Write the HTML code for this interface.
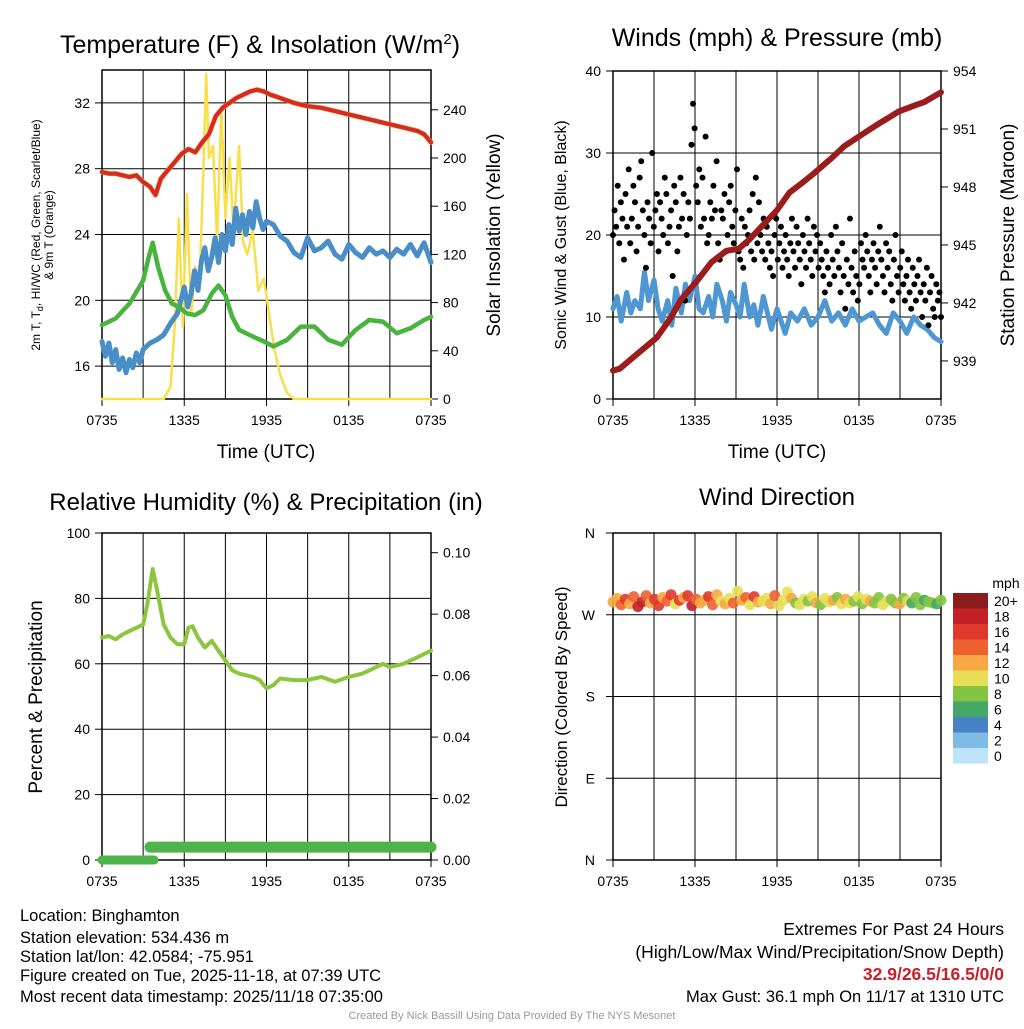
<!DOCTYPE html>
<html><head><meta charset="utf-8"><style>
body{margin:0;background:#fff;font-family:"Liberation Sans",sans-serif}
svg text{font-family:"Liberation Sans",sans-serif;fill:#000}
</style></head><body>
<svg id="c" width="1024" height="1024" xmlns="http://www.w3.org/2000/svg"></svg>
<script>
const xLabels=["0735","1335","1935","0135","0735"];
const tHours=[0,0.5,1,1.5,2,2.5,3,3.5,3.9,4.3,4.8,5.3,5.8,6.3,6.8,7.3,7.8,8.3,8.8,9.3,9.8,10.3,10.8,11.3,11.8,12.3,13,14,15,16,17,18,19,20,21,22,23,23.5,24];
const tempRed=[27.8,27.7,27.7,27.6,27.5,27.6,27.2,26.9,26.4,27.4,27.9,28.4,28.9,29.2,29.0,29.6,30.1,31.2,31.7,32.0,32.3,32.5,32.7,32.8,32.7,32.5,32.3,32.0,31.8,31.7,31.5,31.3,31.1,30.9,30.7,30.5,30.3,30.1,29.6];
const dewHours=[0,1,2,3,3.4,3.7,4.1,4.6,5.1,5.6,6.2,6.8,7.4,8,8.5,9,9.5,10,11,11.8,12.5,13.5,14.5,15.5,16.5,17.5,18.5,19.5,20.5,21.5,22.5,23.5,24];
const dewGreen=[18.5,18.9,19.8,21.2,22.6,23.5,22.0,20.6,19.8,19.6,19.2,19.1,19.4,20.4,20.9,20.3,19.0,18.2,17.8,17.5,17.2,17.6,18.4,18.4,17.6,17.3,18.2,18.8,18.7,18.0,18.3,18.8,19.0];
const chillHours=[0,0.25,0.5,0.75,1,1.25,1.5,1.75,2,2.25,2.5,2.75,3,3.5,4,4.5,5,5.5,6,6.25,6.5,6.75,7,7.25,7.5,7.75,8,8.25,8.5,8.75,9,9.25,9.5,9.75,10,10.25,10.5,10.75,11,11.25,11.5,11.75,12,12.5,13,13.5,14,14.5,15,15.5,16,16.5,17,17.5,18,18.5,19,19.5,20,20.5,21,21.5,22,22.5,23,23.5,24];
const chillBlue=[17.5,16.6,17.4,16.2,17.0,15.8,16.5,15.6,16.4,15.9,16.8,16.2,17.0,17.4,17.6,17.9,18.6,19.2,20.8,19.6,20.4,21.8,20.6,22.4,23.2,21.8,22.6,23.8,22.3,24.0,23.0,24.6,23.4,25.6,24.2,25.2,24.0,25.4,24.4,26.0,25.0,24.3,24.8,24.6,23.9,23.6,22.9,22.6,23.8,23.0,23.2,23.6,22.8,22.5,23.4,22.9,22.6,23.2,22.8,23.0,22.6,23.1,22.8,23.4,22.7,23.5,22.3];
const solHours=[0,4.5,5,5.3,5.6,5.9,6.2,6.5,6.8,7.1,7.4,7.6,7.8,8.1,8.4,8.7,9,9.3,9.6,10,10.3,10.6,11,11.4,11.8,12.2,12.6,13,13.5,14,24];
const solar=[0,0,10,60,150,60,170,70,110,90,190,270,200,210,130,240,150,200,140,210,130,120,140,90,100,70,40,20,5,0,0];
const tempTicks=[16,20,24,28,32];
const solTicks=[0,40,80,120,160,200,240];
const windHours=[0,0.3,0.6,1,1.3,1.6,2,2.3,2.6,3,3.3,3.6,4,4.3,4.6,5,5.3,5.6,6,6.3,6.6,7,7.3,7.6,8,8.3,8.6,9,9.3,9.6,10,10.3,10.6,11,11.3,11.6,12,12.3,12.6,13,13.5,14,14.5,15,15.5,16,16.5,17,17.5,18,18.5,19,19.5,20,20.5,21,21.5,22,22.5,23,23.5,24];
const windBlue=[11,12.5,9.5,13,10.5,12,11,15.5,12,14.5,11,9.5,12,9,13.5,10.5,14,12,15,11,10.5,12.5,10,14,12,9.5,13,11.5,10,14,10,11.5,9,12.5,10.5,8.5,11,9.5,8,10.5,9.5,11,9,10,12,9.5,10.5,9,11,9.5,10,10.5,9,8,10.5,9.5,8,10,9,8.5,7.5,7];
const presHours=[0,0.5,1.5,3.2,4.2,5,6.1,7.2,8.3,9.2,10,10.8,12,12.9,14,14.7,16,16.9,18.4,19.5,20.9,22,22.8,24];
const pressure=[938.5,938.6,939.2,940.2,941.2,942.2,943.1,944.1,944.7,944.8,945.3,945.9,946.8,947.7,948.3,948.7,949.5,950.1,950.8,951.3,951.9,952.2,952.4,952.9];
const gust=[20,23,21,26,19,24,22,17,25,21,28,19,22,26,24,18,21,27,29,23,20,16,24,22,19,30,21,23,25,18,24,22,20,27,25,19,21,23,15,26,24,18,21,27,22,25,12,20,24,22,
31,36,33,26,24,28,21,27,22,32,19,20,24,22,26,23,29,19,17,23,
22,25,18,20,24,26,21,19,23,28,18,17,22,16,21,19,20,23,18,25,17,27,19,24,20,18,22,17,21,19,16,18,15,20,22,17,19,21,16,18,20,17,15,19,22,18,16,21,19,17,14,20,18,16,22,19,17,15,21,18,
20,16,19,17,15,13,18,16,14,20,17,15,21,18,16,13,19,15,11,17,14,22,16,13,18,15,12,14,19,17,16,20,18,15,13,17,19,16,14,18,21,17,15,13,19,16,18,14,12,17,20,15,13,16,18,14,12,15,17,13,11,16,14,12,15,17,13,10,14,12,16,9,13,15,11,10,14,12,13,10];
const windTicks=[0,10,20,30,40];
const presTicks=[939,942,945,948,951,954];
const rhHours=[0,0.5,1,1.5,2,2.5,3,3.3,3.7,4,4.5,5,5.5,6,6.3,6.6,7,7.5,8,8.5,9,9.5,10,11,11.5,12,12.5,13,14,15,16,17,18,19,20,20.5,21,22,23,24];
const rh=[68,68.5,67.5,69,70,71,72,78,89,83,72,68,66,66,71,71.5,68,65,67,64,61,58,57,56,55,52.5,53.5,55.5,55,55,56,54.5,56,57,59,60,59,60,62,64];
const rhTicks=[0,20,40,60,80,100];
const pcpTicks=["0.00","0.02","0.04","0.06","0.08","0.10"];
const pcpHoursA=[0,3.8], pcpA=[0,0];
const pcpHoursB=[3.5,24], pcpB=[0.0042,0.0042];
const dirDeg=[284,288,281,287,282,290,279,284,291,283,287,280,289,285,292,282,286,289,291,280,287,283,286,290,281,292,285,282,288,283,296,286,289,281,290,284,285,288,282,291,280,286,295,288,283,281,287,285,290,283,281,288,284,286,289,282,287,283,285,290,282,287,285,283,289,281,285,287,283,282,288,285,283,289,281,286,284,283,282,286];
const dirSpd=[12,13,14,17,13,15,18,19,14,12,16,17,13,15,16,11,17,13,16,18,15,13,12,17,14,12,10,13,11,15,10,12,14,11,16,12,11,10,13,14,11,10,10,12,9,10,11,8,10,12,9,11,10,12,9,10,13,11,9,10,8,10,12,9,8,10,11,8,9,12,8,10,7,9,8,7,8,9,7,8];
const spdLabels=["20+","18","16","14","12","10","8","6","4","2","0"];
const spdColors=["#8e1b1b","#c21f26","#e0392b","#ef6230","#f7a743","#e6df56","#85c343","#43a865","#4683c4","#80bbe4","#bde3f8"];

const svg=document.getElementById('c');const NS="http://www.w3.org/2000/svg";
function el(tag,attrs,parent){const e=document.createElementNS(NS,tag);for(const k in attrs)e.setAttribute(k,attrs[k]);(parent||svg).appendChild(e);return e;}
function txt(s,x,y,size,anchor,name,extra){const t=el('text',Object.assign({x:x,y:y,'font-size':size,'text-anchor':anchor||'middle'},extra||{}));t.textContent=s;return t;}
function lin(d0,d1,r0,r1){return v=>r0+(v-d0)*(r1-r0)/(d1-d0);}
function border(L,T,R,B){const r=el('rect',{x:L,y:T,width:R-L,height:B-T,fill:'none',stroke:'#000','stroke-width':1.5});}
function frame(L,T,R,B,name){
  const g=el('g',{});
  const xs=lin(0,24,L,R);
  for(let h=3;h<24;h+=3){el('line',{x1:xs(h),x2:xs(h),y1:T,y2:B,stroke:'#000','stroke-width':1},g);}
  for(let i=0;i<5;i++){const x=xs(i*6);txt(xLabels[i],x,B+26,14,'middle','x-tick-label');el('line',{x1:x,x2:x,y1:B,y2:B+7,stroke:'#000'},g);}
  border(L,T,R,B);
  return {g,xs};
}
function path(xsArr,ysArr,xs,ys,color,w,name){let d='';for(let i=0;i<xsArr.length;i++)d+=(i?'L':'M')+xs(xsArr[i]).toFixed(1)+','+ys(ysArr[i]).toFixed(1);const p=el('path',{d:d,fill:'none',stroke:color,'stroke-width':w,'stroke-linejoin':'round','stroke-linecap':'round'});return p;}

(function(){const L=102,T=70,R=431,B=399;const {xs}=frame(L,T,R,B,'temp-panel');
  const ys=lin(14,34,B,T), ss=lin(0,273,B,T);
  tempTicks.forEach(v=>{el('line',{x1:L,x2:R,y1:ys(v),y2:ys(v),stroke:'#000'});el('line',{x1:L-7,x2:L,y1:ys(v),y2:ys(v),stroke:'#000'});txt(String(v),L-12,ys(v)+5,14,'end','y-tick-label');});
  solTicks.forEach(v=>{el('line',{x1:R,x2:R+7,y1:ss(v),y2:ss(v),stroke:'#000'});txt(String(v),R+12,ss(v)+5,14,'start','y2-tick-label');});
  path(solHours,solar,xs,ss,'#f8e04a',2.5,'solar-line');
  path(chillHours,chillBlue,xs,ys,'#4a8ec9',5,'windchill-line');
  path(dewHours,dewGreen,xs,ys,'#49b43d',4.5,'dewpoint-line');
  path(tHours,tempRed,xs,ys,'#f29a3a',5,'temp-9m-line');
  path(tHours,tempRed,xs,ys,'#d62a25',4,'temp-2m-line');
  const t=txt('Temperature (F) & Insolation (W/m',260,53,25,'middle','chart-title');const s=el('tspan',{dy:-9,'font-size':15},t);s.textContent='2';const s2=el('tspan',{dy:9},t);s2.textContent=')';
  txt('Time (UTC)',266,458,19,'middle','x-axis-title');
  txt('Solar Insolation (Yellow)',0,0,19,'middle','y2-axis-title',{transform:'translate(500 235) rotate(-90)'});
  const y1=txt('2m T, T',0,0,12,'middle','y-axis-title',{transform:'translate(40 235) rotate(-90)'});const sb=el('tspan',{dy:3,'font-size':9},y1);sb.textContent='d';const r1=el('tspan',{dy:-3},y1);r1.textContent=', HI/WC (Red, Green, Scarlet/Blue)';
  txt('& 9m T (Orange)',0,0,12,'middle','y-axis-title-2',{transform:'translate(53 235) rotate(-90)'});
})();

(function(){const L=613,T=71,R=941,B=399;const {xs}=frame(L,T,R,B,'wind-panel');
  const ys=lin(0,40,B,T), ps=lin(937.03,954,B,T);
  windTicks.forEach(v=>{el('line',{x1:L,x2:R,y1:ys(v),y2:ys(v),stroke:'#000'});el('line',{x1:L-7,x2:L,y1:ys(v),y2:ys(v),stroke:'#000'});txt(String(v),L-12,ys(v)+5,14,'end','y-tick-label');});
  presTicks.forEach(v=>{el('line',{x1:R,x2:R+7,y1:ps(v),y2:ps(v),stroke:'#000'});txt(String(v),R+12,ps(v)+5,14,'start','y2-tick-label');});
  path(windHours,windBlue,xs,ys,'#4f97d2',5,'sonic-wind-line');
  gust.forEach((v,i)=>{const c=el('circle',{cx:xs(i*24/(gust.length-1)),cy:ys(v),r:3,fill:'#000'});
    
    });
  path(presHours,pressure,xs,ps,'#9a1c1c',6,'pressure-line');
  txt('Winds (mph) & Pressure (mb)',777,46,25,'middle','chart-title');
  txt('Time (UTC)',777,458,19,'middle','x-axis-title');
  txt('Sonic Wind & Gust (Blue, Black)',0,0,16,'middle','y-axis-title',{transform:'translate(566 235) rotate(-90)'});
  txt('Station Pressure (Maroon)',0,0,19,'middle','y2-axis-title',{transform:'translate(1014 235) rotate(-90)'});
})();

(function(){const L=102,T=533,R=431,B=860;const {xs}=frame(L,T,R,B,'rh-panel');
  const ys=lin(0,100,B,T), ps=lin(0,0.1,B,552.7);
  rhTicks.forEach(v=>{el('line',{x1:L,x2:R,y1:ys(v),y2:ys(v),stroke:'#000'});el('line',{x1:L-7,x2:L,y1:ys(v),y2:ys(v),stroke:'#000'});txt(String(v),L-12,ys(v)+5,14,'end','y-tick-label');});
  pcpTicks.forEach(v=>{const y=ps(parseFloat(v));el('line',{x1:R,x2:R+7,y1:y,y2:y,stroke:'#000'});txt(v,R+12,y+5,14,'start','y2-tick-label');});
  path(rhHours,rh,xs,ys,'#8cc63f',4,'rh-line');
  path(pcpHoursA,pcpA,xs,ps,'#4cb44a',9,'precip-line-a');
  path(pcpHoursB,pcpB,xs,ps,'#4cb44a',11,'precip-line-b');
  txt('Relative Humidity (%) & Precipitation (in)',266,510,24,'middle','chart-title');
  txt('Percent & Precipitation',0,0,19,'middle','y-axis-title',{transform:'translate(42 697) rotate(-90)'});
})();

(function(){const L=613,T=533,R=941,B=860;const {xs}=frame(L,T,R,B,'direction-panel');
  const ys=lin(0,360,B,T);
  ["N","E","S","W","N"].forEach((s,i)=>{const y=ys(i*90);el('line',{x1:L,x2:R,y1:y,y2:y,stroke:'#000'});el('line',{x1:L-7,x2:L,y1:y,y2:y,stroke:'#000'});txt(s,L-18,y+5,14,'end','y-tick-label');});
  function col(s){const idx=Math.min(10,Math.max(0,10-Math.floor(s/2)));return spdColors[idx];}
  dirDeg.forEach((d,i)=>{const c=el('circle',{cx:xs(i*24/(dirDeg.length-1)),cy:ys(d),r:5.5,fill:col(dirSpd[i]),'fill-opacity':0.9});
    
    });
  txt('Wind Direction',777,505,24,'middle','chart-title');
  txt('Direction (Colored By Speed)',0,0,17,'middle','y-axis-title',{transform:'translate(567 697) rotate(-90)'});
  txt('mph',1006,588,14,'middle','colorbar-title');
  spdLabels.forEach((s,i)=>{const y=593+i*15.5;const r=el('rect',{x:953,y:y,width:35,height:15.6,fill:spdColors[i]});
    
    
    txt(s,994,y+13,14,'start','colorbar-label');});
})();

[["Location: Binghamton",921],["Station elevation: 534.436 m",943],["Station lat/lon: 42.0584; -75.951",962],["Figure created on Tue, 2025-11-18, at 07:39 UTC",981],["Most recent data timestamp: 2025/11/18 07:35:00",1002]].forEach(a=>txt(a[0],20,a[1],16.5,'start','station-info'));
txt('Extremes For Past 24 Hours',1004,935,17.5,'end','extremes-title');
txt('(High/Low/Max Wind/Precipitation/Snow Depth)',1004,958,17.5,'end','extremes-subtitle');
txt('32.9/26.5/16.5/0/0',1004,980,17.5,'end','extremes-values',{'font-weight':'bold',style:'fill:#c8202a'});
txt('Max Gust: 36.1 mph On 11/17 at 1310 UTC',1004,1002,16.5,'end','max-gust');
txt('Created By Nick Bassill Using Data Provided By The NYS Mesonet',512,1019,11,'middle','credit',{style:'fill:#999'});
</script>
</body></html>
